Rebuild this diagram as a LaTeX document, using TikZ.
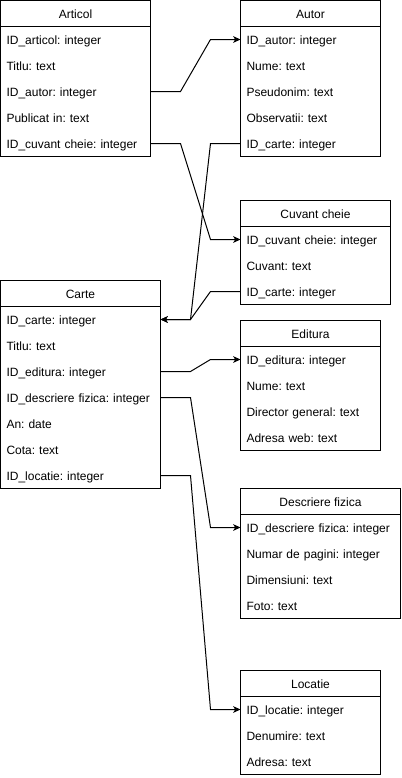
\documentclass[tikz,border=0pt]{standalone}
\usepackage{fontspec}
\setmainfont{Liberation Sans}
\usepackage{tikz}
\usetikzlibrary{arrows.meta}
\frenchspacing
\tikzstyle{tablehead} = [rectangle, draw, text centered, minimum height=19.5pt, inner sep=0pt, outer sep=0pt, text height=7.6pt, text depth=0.6pt]
\tikzstyle{tablerow} = [rectangle, align=left, minimum height=19.5pt, inner xsep=4.5pt, inner ysep=0pt, outer sep=0pt, text height=8pt, text depth=0.8pt]
\tikzstyle{connector} = [line width=0.75pt, -{Stealth[length=5.5pt, width=5pt, inset=1.5pt]}]

\begin{document}
\begin{tikzpicture}[x=0.75pt, y=-0.75pt, line width=0.75pt, node distance=19.5pt, font=\fontsize{9pt}{11pt}\selectfont]
        \useasboundingbox (0,0) rectangle (401,778);
        % Articol
        \node (articol) [tablehead, minimum width=112.5pt] at (75.5,13.5) {Articol};
        \node (articol-id) [tablerow, text width=103.5pt, below of = articol] {ID\_articol: integer};
        \node (articol-titlu) [tablerow, text width=103.5pt, below of = articol-id] {Titlu: text};
        \node (articol-idautor) [tablerow, text width=103.5pt, below of = articol-titlu] {ID\_autor: integer};
        \node (articol-publicat) [tablerow, text width=103.5pt, below of = articol-idautor] {Publicat in: text};
        \node (articol-idcuvant) [tablerow, text width=103.5pt, below of = articol-publicat] {ID\_cuvant cheie: integer};
        \draw (articol.north west) rectangle (articol-idcuvant.south east);
        % Autor
        \node (autor) [tablehead, minimum width=105pt] at (310.5,13.5) {Autor};
        \node (autor-id) [tablerow, text width=96pt, below of = autor] {ID\_autor: integer};
        \node (autor-nume) [tablerow, text width=96pt, below of = autor-id] {Nume: text};
        \node (autor-pseudonim) [tablerow, text width=96pt, below of = autor-nume] {Pseudonim: text};
        \node (autor-observatii) [tablerow, text width=96pt, below of = autor-pseudonim] {Observatii: text};
        \node (autor-idcarte) [tablerow, text width=96pt, below of = autor-observatii] {ID\_carte: integer};
        \draw (autor.north west) rectangle (autor-idcarte.south east);
        % Cuvant cheie
        \node (cuvant) [tablehead, minimum width=112.5pt] at (315.5,213.5) {Cuvant cheie};
        \node (cuvant-id) [tablerow, text width=103.5pt, below of = cuvant] {ID\_cuvant cheie: integer};
        \node (cuvant-cuvant) [tablerow, text width=103.5pt, below of = cuvant-id] {Cuvant: text};
        \node (cuvant-idcarte) [tablerow, text width=103.5pt, below of = cuvant-cuvant] {ID\_carte: integer};
        \draw (cuvant.north west) rectangle (cuvant-idcarte.south east);
        % Carte
        \node (carte) [tablehead, minimum width=120pt] at (80.5,293.5) {Carte};
        \node (carte-id) [tablerow, text width=111pt, below of = carte] {ID\_carte: integer};
        \node (carte-titlu) [tablerow, text width=111pt, below of = carte-id] {Titlu: text};
        \node (carte-ideditura) [tablerow, text width=111pt, below of = carte-titlu] {ID\_editura: integer};
        \node (carte-iddescriere) [tablerow, text width=111pt, below of = carte-ideditura] {ID\_descriere fizica: integer};
        \node (carte-an) [tablerow, text width=111pt, below of = carte-iddescriere] {An: date};
        \node (carte-cota) [tablerow, text width=111pt, below of = carte-an] {Cota: text};
        \node (carte-idlocatie) [tablerow, text width=111pt, below of = carte-cota] {ID\_locatie: integer};
        \draw (carte.north west) rectangle (carte-idlocatie.south east);
        % Editura
        \node (editura) [tablehead, minimum width=105pt] at (310.5,333.5) {Editura};
        \node (editura-id) [tablerow, text width=96pt, below of = editura] {ID\_editura: integer};
        \node (editura-nume) [tablerow, text width=96pt, below of = editura-id] {Nume: text};
        \node (editura-director) [tablerow, text width=96pt, below of = editura-nume] {Director general: text};
        \node (editura-adresa) [tablerow, text width=96pt, below of = editura-director] {Adresa web: text};
        \draw (editura.north west) rectangle (editura-adresa.south east);
        % Descriere fizica
        \node (descriere) [tablehead, minimum width=120pt] at (320.5,501.5) {Descriere fizica};
        \node (descriere-id) [tablerow, text width=111pt, below of = descriere] {ID\_descriere fizica: integer};
        \node (descriere-pagini) [tablerow, text width=111pt, below of = descriere-id] {Numar de pagini: integer};
        \node (descriere-dimensiuni) [tablerow, text width=111pt, below of = descriere-pagini] {Dimensiuni: text};
        \node (descriere-foto) [tablerow, text width=111pt, below of = descriere-dimensiuni] {Foto: text};
        \draw (descriere.north west) rectangle (descriere-foto.south east);
        % Locatie
        \node (locatie) [tablehead, minimum width=105pt] at (310.5,683.5) {Locatie};
        \node (locatie-id) [tablerow, text width=96pt, below of = locatie] {ID\_locatie: integer};
        \node (locatie-denumire) [tablerow, text width=96pt, below of = locatie-id] {Denumire: text};
        \node (locatie-adresa) [tablerow, text width=96pt, below of = locatie-denumire] {Adresa: text};
        \draw (locatie.north west) rectangle (locatie-adresa.south east);
        % legaturi
        \draw [connector] (articol-idautor.east) -- ++(30,0) -- ([xshift=-22.5pt]autor-id.west) -- (autor-id.west);
        \draw [connector] (articol-idcuvant.east) -- ++(30,0) -- ([xshift=-22.5pt]cuvant-id.west) -- (cuvant-id.west);
        \draw [connector] (autor-idcarte.west) -- ++(-30,0) -- ([xshift=22.5pt]carte-id.east) -- (carte-id.east);
        \draw [connector] (cuvant-idcarte.west) -- ++(-30,0) -- ([xshift=22.5pt]carte-id.east) -- (carte-id.east);
        \draw [connector] (carte-ideditura.east) -- ++(30,0) -- ([xshift=-22.5pt]editura-id.west) -- (editura-id.west);
        \draw [connector] (carte-iddescriere.east) -- ++(30,0) -- ([xshift=-22.5pt]descriere-id.west) -- (descriere-id.west);
        \draw [connector] (carte-idlocatie.east) -- ++(30,0) -- ([xshift=-22.5pt]locatie-id.west) -- (locatie-id.west);
    \end{tikzpicture}
\end{document}
